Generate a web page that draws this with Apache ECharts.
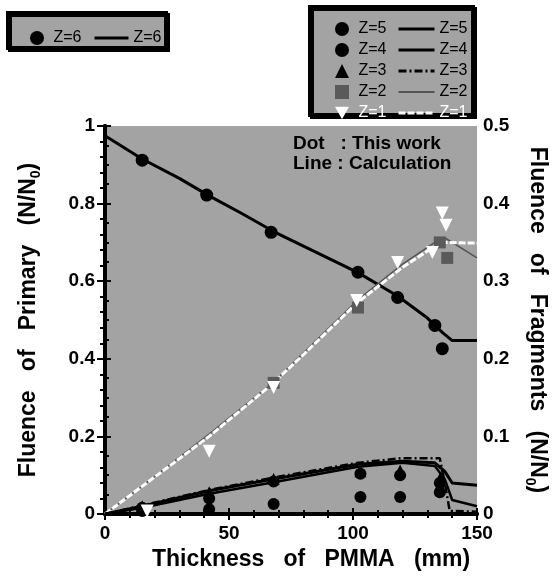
<!DOCTYPE html>
<html>
<head>
<meta charset="utf-8">
<script src="https://cdn.jsdelivr.net/npm/echarts@6/dist/echarts.min.js"></script>
<style>
html, body { margin: 0; padding: 0; background: #fff; }
#chart { width: 560px; height: 577px; }
</style>
</head>
<body>
<div id="chart"></div>
<script>
// primary beam (left axis)
var z6X = [15, 41, 67, 102, 118, 133, 136];
var z6Y = [0.912, 0.822, 0.726, 0.623, 0.558, 0.486, 0.426];
var z6CalcX = [0, 15, 30, 42, 55, 68, 85, 102, 118, 130, 136, 140, 150];
var z6CalcY = [0.975, 0.915, 0.865, 0.82, 0.775, 0.728, 0.675, 0.622, 0.562, 0.505, 0.468, 0.447, 0.447];

// fragments (right axis)
var fragX = [15, 42, 68, 103, 119, 135];
var z5Y = [0.008, 0.02, 0.042, 0.052, 0.05, 0.04];
var z4Y = [0.004, 0.006, 0.013, 0.022, 0.022, 0.028];
var z3Y = [0.01, 0.028, 0.045, 0.055, 0.056, 0.045];
var z2X = [68, 102, 135, 138];
var z2Y = [0.169, 0.266, 0.35, 0.33];
var z1X = [17, 42, 68, 101.5, 118, 132, 136, 137.5];
var z1Y = [0.004, 0.081, 0.163, 0.275, 0.324, 0.337, 0.388, 0.372];

var lowCalcX = [0, 15, 42, 68, 102, 120, 133, 137, 140, 150];
var z5CalcY = [0, 0.01, 0.03, 0.045, 0.064, 0.068, 0.066, 0.055, 0.04, 0.037];
var z4CalcY = [0, 0.008, 0.026, 0.041, 0.061, 0.066, 0.062, 0.045, 0.018, 0.01];
var z3CalcX = [0, 15, 42, 68, 102, 120, 135, 137, 139, 150];
var z3CalcY = [0, 0.011, 0.031, 0.047, 0.066, 0.072, 0.072, 0.04, 0.004, 0.003];
var z2CalcX = [0, 15, 42, 68, 102, 120, 133, 137, 150];
var z2CalcY = [0, 0.036, 0.103, 0.17, 0.276, 0.322, 0.35, 0.356, 0.33];
var z1CalcX = [0, 42, 66.5, 78.6, 101.6, 120, 132, 137, 150];
var z1CalcY = [0, 0.1, 0.165, 0.201, 0.272, 0.318, 0.343, 0.35, 0.349];

function pairs(xs, ys) {
  return xs.map(function (x, i) { return [x, ys[i]]; });
}

var fontFam = '"Liberation Sans", Arial, sans-serif';
var gray = '#a3a3a3';

var chart = echarts.init(document.getElementById('chart'));

function dots(name, xs, ys, axis, symbol, size, color, rotate) {
  return {
    name: name, type: 'scatter', yAxisIndex: axis, data: pairs(xs, ys),
    symbol: symbol, symbolSize: size, symbolRotate: rotate || 0,
    itemStyle: { color: color, opacity: 1 }, z: 4
  };
}
function calc(name, xs, ys, axis, color, width, dash) {
  return {
    name: name, type: 'line', yAxisIndex: axis, data: pairs(xs, ys),
    symbol: 'none', showSymbol: false,
    lineStyle: { color: color, width: width, type: dash || 'solid' },
    itemStyle: { color: color }, z: 3
  };
}

var axisTitle = {
  fontSize: 23, fontWeight: 'bold', color: '#000', fontFamily: fontFam, lineHeight: 28,
  rich: { sub: { fontSize: 14, fontWeight: 'bold', fontFamily: fontFam, lineHeight: 14, verticalAlign: 'bottom' } }
};
var tickLabel = { fontSize: 19, fontWeight: 'bold', color: '#000', fontFamily: fontFam };
var legendText = { fontSize: 16, color: '#000', fontFamily: fontFam };
var strip = function (n) { return n.replace(' calc', ''); };
var pad = function (n) { return ' ' + n; };
// line legends: show only the line, not a symbol
var noSymbol = { opacity: 0 };
var downTri = 'path://M0,0 L10,0 L5,9 Z';

chart.setOption({
  animation: false,
  backgroundColor: '#fff',
  grid: { left: 105, right: 83, top: 126, bottom: 63, show: true, backgroundColor: gray, borderWidth: 0 },
  graphic: [
    { type: 'rect', z: 1, shape: { x: 8, y: 13, width: 158, height: 35 },
      style: { fill: gray, stroke: '#000', lineWidth: 4, shadowColor: '#000', shadowOffsetX: 2, shadowOffsetY: 2 } },
    { type: 'rect', z: 1, shape: { x: 310, y: 7, width: 163, height: 108 },
      style: { fill: gray, stroke: '#000', lineWidth: 4, shadowColor: '#000', shadowOffsetX: 2, shadowOffsetY: 2 } },
    { type: 'text', z: 5, left: 293, top: 134,
      style: { text: 'Dot   : This work\nLine : Calculation', font: 'bold 19px ' + fontFam, fill: '#000', lineHeight: 20 } }
  ],
  legend: [
    { data: ['Z=6'], left: 25, top: 25, itemWidth: 14, itemHeight: 14, formatter: pad, textStyle: legendText },
    { data: ['Z=6 calc'], left: 88, top: 25, itemWidth: 34, itemHeight: 14, formatter: strip,
      itemStyle: noSymbol, lineStyle: { width: 3 }, textStyle: legendText },
    { data: ['Z=5', 'Z=4', 'Z=3', 'Z=2', { name: 'Z=1', icon: downTri, textStyle: { color: '#fff' } }],
      orient: 'vertical', left: 330, top: 16, itemGap: 5, itemWidth: 14, itemHeight: 14, formatter: pad, textStyle: legendText },
    { data: [
        { name: 'Z=5 calc', lineStyle: { width: 3 } },
        { name: 'Z=4 calc', lineStyle: { width: 3 } },
        { name: 'Z=3 calc', lineStyle: { width: 3 } },
        { name: 'Z=2 calc', lineStyle: { width: 2 } },
        { name: 'Z=1 calc', lineStyle: { width: 3 }, textStyle: { color: '#fff' } }
      ],
      orient: 'vertical', left: 392, top: 16, itemGap: 5, itemWidth: 36, itemHeight: 14, formatter: strip,
      itemStyle: noSymbol, textStyle: legendText }
  ],
  xAxis: [
    { type: 'value', min: 0, max: 150, interval: 50, position: 'bottom',
      name: 'Thickness   of   PMMA   (mm)', nameLocation: 'middle', nameGap: 22,
      nameTextStyle: { fontSize: 23, fontWeight: 'bold', color: '#000', fontFamily: fontFam, padding: [0, 0, 0, 40] },
      axisLine: { lineStyle: { color: '#000', width: 4 } },
      axisTick: { inside: true, length: 6, lineStyle: { color: '#000', width: 2 } },
      minorTick: { show: true, splitNumber: 5, length: 4, lineStyle: { color: '#000', width: 2 } },
      axisLabel: Object.assign({ margin: 10 }, tickLabel),
      splitLine: { show: false } },
    { type: 'value', min: 0, max: 150, interval: 50, position: 'top',
      axisLine: { lineStyle: { color: '#000', width: 4 } },
      axisTick: { inside: true, length: 6, lineStyle: { color: '#000', width: 2 } },
      minorTick: { show: true, splitNumber: 5, length: 4, lineStyle: { color: '#000', width: 2 } },
      axisLabel: { show: false }, splitLine: { show: false } }
  ],
  yAxis: [
    { type: 'value', min: 0, max: 1, interval: 0.2, position: 'left',
      name: 'Fluence   of   Primary   (N/N{sub|0})', nameLocation: 'middle', nameGap: 62,
      nameTextStyle: axisTitle,
      axisLine: { show: true, lineStyle: { color: '#000', width: 4 } },
      axisTick: { show: true, inside: true, length: 6, lineStyle: { color: '#000', width: 2 } },
      minorTick: { show: true, splitNumber: 4, length: 4, lineStyle: { color: '#000', width: 2 } },
      axisLabel: Object.assign({ margin: 10 }, tickLabel),
      splitLine: { show: false } },
    { type: 'value', min: 0, max: 0.5, interval: 0.1, position: 'right',
      name: 'Fluence   of   Fragments   (N/N{sub|0})', nameLocation: 'middle', nameGap: 46, nameRotate: -90,
      nameTextStyle: axisTitle,
      axisLine: { show: true, lineStyle: { color: '#000', width: 4 } },
      axisTick: { show: true, inside: true, length: 8, lineStyle: { color: '#000', width: 2 } },
      minorTick: { show: true, splitNumber: 5, length: 5, lineStyle: { color: '#000', width: 2 } },
      axisLabel: Object.assign({ margin: 6 }, tickLabel),
      splitLine: { show: false } }
  ],
  series: [
    calc('Z=6 calc', z6CalcX, z6CalcY, 0, '#000', 3),
    dots('Z=6', z6X, z6Y, 0, 'circle', 13, '#000'),
    calc('Z=2 calc', z2CalcX, z2CalcY, 1, '#555', 1.5),
    calc('Z=1 calc', z1CalcX, z1CalcY, 1, '#fff', 3, [7, 2]),
    calc('Z=5 calc', lowCalcX, z5CalcY, 1, '#000', 3),
    calc('Z=4 calc', lowCalcX, z4CalcY, 1, '#000', 2.5),
    calc('Z=3 calc', z3CalcX, z3CalcY, 1, '#000', 2.5, [8, 3, 2, 3]),
    dots('Z=5', fragX, z5Y, 1, 'circle', 12, '#000'),
    dots('Z=4', fragX, z4Y, 1, 'circle', 12, '#000'),
    dots('Z=3', fragX, z3Y, 1, 'triangle', 12, '#000'),
    dots('Z=2', z2X, z2Y, 1, 'rect', 12, '#5a5a5a'),
    dots('Z=1', z1X, z1Y, 1, 'triangle', 13, '#fff', 180)
  ]
});
</script>
</body>
</html>
